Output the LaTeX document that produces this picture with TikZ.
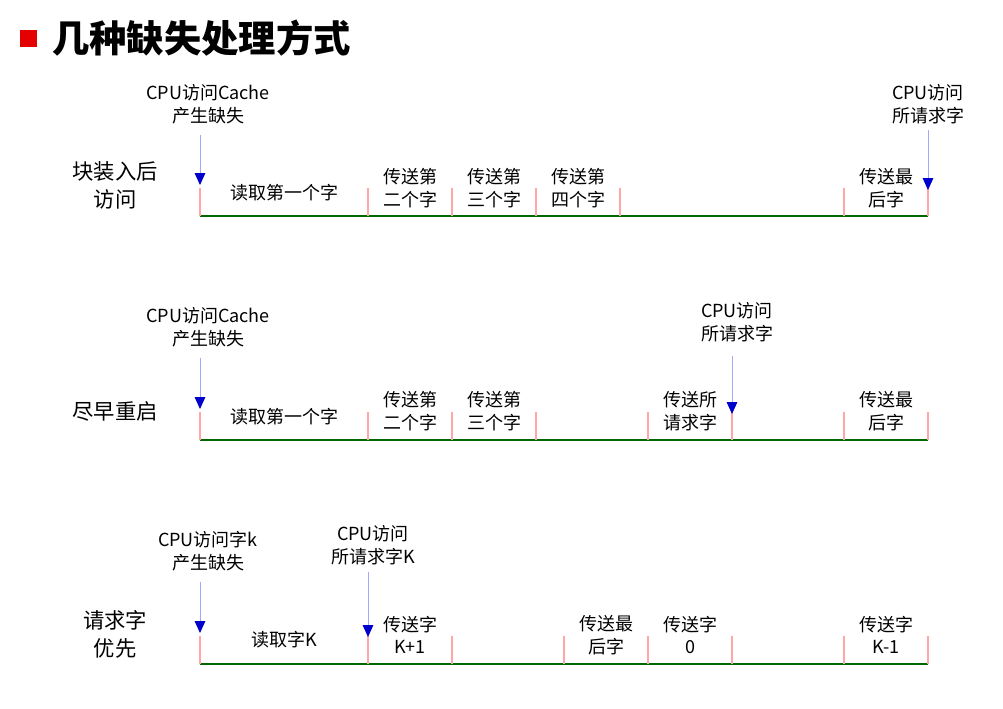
\documentclass[tikz,border=0pt]{standalone}
\usepackage{fontspec}
\setmainfont{Noto Sans CJK SC}
\newfontfamily\cjk{Noto Sans CJK SC}
\usetikzlibrary{arrows.meta}
\begin{document}
\begin{tikzpicture}[x=0.75pt,y=-0.75pt,
  txt/.style={font=\fontsize{13.5}{17}\selectfont, inner sep=0pt, align=center},
  lbl/.style={font=\fontsize{16}{21}\selectfont, inner sep=0pt, align=center},
  tick/.style={draw=red!35, line width=0.8pt},
  base/.style={draw=green!40!black, line width=1.6pt},
  arr/.style={draw=blue!35, line width=0.6pt, -{Triangle[length=9pt,width=8pt,color=blue!80!black]}}]
\useasboundingbox (0,0) rectangle (1003,708);
\fill[red!90!black] (20,30) rectangle (37,47);
\node[anchor=west, inner sep=0pt, font=\fontsize{28}{32}\selectfont\bfseries] (title) at (52,38) {几种缺失处理方式};
\foreach \r/\yy in {1/216,2/440,3/664}{
  \coordinate (s\r) at (200,\yy);
  \coordinate (e\r) at (928,\yy);
  \draw[base] (s\r) -- (e\r);
}
% row 1
\foreach \x [count=\i] in {200,368,452,536,620,844,928}{
  \coordinate (a\i) at (\x,216); \coordinate (b\i) at (\x,188);
  \draw[tick] (a\i) -- (b\i);}
\node[txt] (r1c1) at (284,193) {读取第一个字};
\node[txt] (r1c2) at (410,188) {传送第\\二个字};
\node[txt] (r1c3) at (494,188) {传送第\\三个字};
\node[txt] (r1c4) at (578,188) {传送第\\四个字};
\node[txt] (r1c5) at (886,188) {传送最\\后字};
\node[lbl] (r1l) at (115,185) {块装入后\\访问};
\node[txt] (r1t1) at (208,104) {CPU访问Cache\\产生缺失};
\node[txt] (r1t2) at (928,104) {CPU访问\\所请求字};
\coordinate (r1a1s) at (200,135); \coordinate (r1a1e) at (200,185);
\coordinate (r1a2s) at (928,130); \coordinate (r1a2e) at (928,190);
\draw[arr] (r1a1s) -- (r1a1e);
\draw[arr] (r1a2s) -- (r1a2e);
% row 2
\foreach \x [count=\i] in {200,368,452,536,648,732,844,928}{
  \coordinate (c\i) at (\x,440); \coordinate (d\i) at (\x,412);
  \draw[tick] (c\i) -- (d\i);}
\node[txt] (r2c1) at (284,417) {读取第一个字};
\node[txt] (r2c2) at (410,411) {传送第\\二个字};
\node[txt] (r2c3) at (494,411) {传送第\\三个字};
\node[txt] (r2c4) at (690,411) {传送所\\请求字};
\node[txt] (r2c5) at (886,411) {传送最\\后字};
\node[lbl] (r2l) at (115,411) {尽早重启};
\node[txt] (r2t1) at (208,327) {CPU访问Cache\\产生缺失};
\node[txt] (r2t2) at (737,322) {CPU访问\\所请求字};
\coordinate (r2a1s) at (200,358); \coordinate (r2a1e) at (200,409);
\coordinate (r2a2s) at (732,356); \coordinate (r2a2e) at (732,414);
\draw[arr] (r2a1s) -- (r2a1e);
\draw[arr] (r2a2s) -- (r2a2e);
% row 3
\foreach \x [count=\i] in {200,368,452,564,648,732,844,928}{
  \coordinate (f\i) at (\x,664); \coordinate (g\i) at (\x,636);
  \draw[tick] (f\i) -- (g\i);}
\node[txt] (r3c1) at (284,640) {读取字K};
\node[txt] (r3c2) at (410,635) {传送字\\K+1};
\node[txt] (r3c3) at (606,635) {传送最\\后字};
\node[txt] (r3c4) at (690,635) {传送字\\0};
\node[txt] (r3c5) at (886,635) {传送字\\K-1};
\node[lbl] (r3l) at (115,634) {请求字\\优先};
\node[txt] (r3t1) at (208,551) {CPU访问字k\\产生缺失};
\node[txt] (r3t2) at (373,545) {CPU访问\\所请求字K};
\coordinate (r3a1s) at (200,582); \coordinate (r3a1e) at (200,633);
\coordinate (r3a2s) at (368,572); \coordinate (r3a2e) at (368,637);
\draw[arr] (r3a1s) -- (r3a1e);
\draw[arr] (r3a2s) -- (r3a2e);
\end{tikzpicture}
\end{document}
